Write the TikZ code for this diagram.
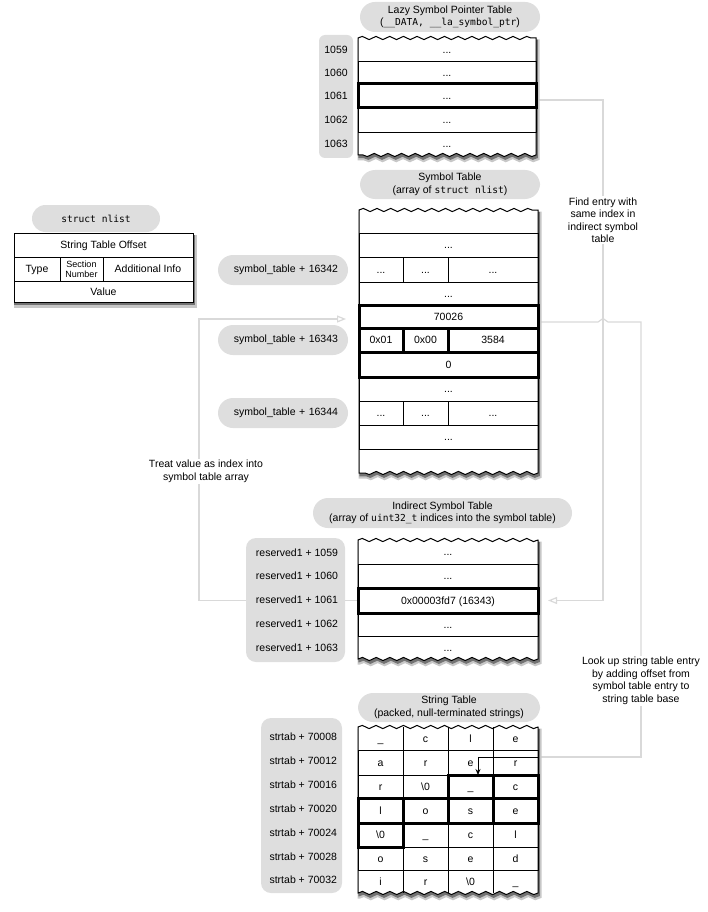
\documentclass[tikz,border=0pt]{standalone}
\usepackage{fontspec}
\setmainfont{Liberation Sans}
\newfontfamily\monof{DejaVu Sans Mono}
\usetikzlibrary{decorations.pathmorphing,arrows.meta,calc}
\pgfdeclarelayer{bg}
\pgfsetlayers{bg,main}
\definecolor{pillgray}{HTML}{DEDEDE}
\definecolor{conngray}{HTML}{D9D9D9}
\newcommand{\mt}[1]{{\monof\fontsize{9.6}{12.5}\selectfont #1}}
\newcommand{\bsz}{\textbackslash 0}
\tikzset{
  base/.style={font=\fontsize{10.5}{12.5}\selectfont, inner sep=0pt, outer sep=0pt},
  pill/.style={base, fill=pillgray, draw=none, align=center, rounded corners=#1},
  pill/.default=15pt,
  lblpill/.style={pill, minimum width=130pt, minimum height=30pt, text width=110pt, align=right},
  cellbox/.style={base, text height=7.6pt, text depth=0pt},
  thin cell/.style={cellbox, draw=black, line width=0.9pt},
  bold cell/.style={cellbox, draw=black, line width=3pt},
  free cell/.style={cellbox},
  cellline/.style={draw=black, line width=0.9pt},
  boldframe/.style={draw=black, line width=3pt},
  tableline/.style={draw=black, line width=1pt, fill=white},
  shadeA/.style={draw=black!22, line width=4pt, fill=black!22, xshift=1.5pt, yshift=-3.5pt},
  shadeB/.style={draw=black!55, line width=1.5pt, fill=black!55, xshift=1pt, yshift=-2.5pt},
  wavedec/.style={decoration={snake, segment length=13.7pt, amplitude=1.6pt}},
  conn/.style={draw=conngray, line width=1.2pt},
  openhead/.style={-{Triangle[open, length=9pt, width=7pt, fill=white]}},
  note/.style={base, align=center, fill=white, inner sep=1pt},
  idx/.style={base, anchor=east},
}
% name, style, x1, y1, x2, y2, text
\newcommand{\cellat}[7]{%
  \node[#2, minimum width={(#5-#3)*1pt}, minimum height={(#6-#4)*1pt}] (#1) at ({(#3+#5)/2},{(#4+#6)/2}) {#7};}
\newcommand{\wavepath}[5]{%
  \path[#5] (#1,#2) decorate[wavedec]{-- (#3,#2)} -- (#3,#4) decorate[wavedec]{-- (#1,#4)} -- cycle;}
\newcommand{\wavetable}[4]{%
  \wavepath{#1}{#2}{#3}{#4}{shadeA}\wavepath{#1}{#2}{#3}{#4}{shadeB}\wavepath{#1}{#2}{#3}{#4}{tableline}}
\newcommand{\strrow}[8]{%
  \cellat{s#1a}{#4}{358}{#2}{403}{#3}{#5}%
  \cellat{s#1b}{#4}{403}{#2}{448}{#3}{#6}%
  \cellat{s#1c}{#4}{448}{#2}{493}{#3}{#7}%
  \cellat{s#1d}{#4}{493}{#2}{538}{#3}{#8}}
\begin{document}
\begin{tikzpicture}[x=1pt,y=-1pt]
\useasboundingbox (0,0) rectangle (708,912);

% ---------- Lazy symbol pointer table ----------
\node[pill, minimum width=180pt, minimum height=30pt] (lzpill) at (450,17)
  {Lazy Symbol Pointer Table\\(\mt{\_\_DATA, \_\_la\_symbol\_ptr})};
\node[pill=6pt, minimum width=34pt, minimum height=123pt] (lzidx) at (336,96.5) {};
\node[base] (i1059) at (336,49.5) {1059};
\node[base] (i1060) at (336,72.5) {1060};
\node[base] (i1061) at (336,96) {1061};
\node[base] (i1062) at (336,120) {1062};
\node[base] (i1063) at (336,143.5) {1063};
\wavetable{358}{38}{536}{155}
\cellat{lz1059}{free cell}{358}{38}{536}{61}{...}
\cellat{lz1060}{thin cell}{358}{61}{536}{84}{...}
\cellat{lz1062}{thin cell}{358}{108}{536}{132}{...}
\cellat{lz1063}{free cell}{358}{132}{536}{155}{...}
\cellat{lz1061}{bold cell}{358}{84}{536}{108}{...}

% ---------- struct nlist ----------
\node[pill=13.5pt, minimum width=128pt, minimum height=27pt] (nlpill) at (96,218.5) {\mt{struct nlist}};
\path[shadeA] (14,233) rectangle (193,302);
\path[shadeB] (14,233) rectangle (193,302);
\path[tableline] (14,233) rectangle (193,302);
\cellat{nloff}{thin cell}{14}{233}{193}{257}{String Table Offset}
\cellat{nltype}{thin cell}{14}{257}{60}{281}{Type}
\cellat{nlsect}{thin cell, text height={}, text depth={}, align=center, font=\fontsize{9}{10}\selectfont}{60}{257}{103}{281}{Section\\Number}
\cellat{nlinfo}{thin cell}{103}{257}{193}{281}{Additional Info}
\cellat{nlval}{thin cell}{14}{281}{193}{302}{Value}

% ---------- Symbol table ----------
\node[pill, minimum width=180pt, minimum height=29pt] (stpill) at (450,184.5)
  {Symbol Table\\(array of \mt{struct nlist})};
\node[lblpill] (l16342) at (283,270) {symbol\_table + 16342};
\node[lblpill] (l16343) at (283,340) {symbol\_table + 16343};
\node[lblpill] (l16344) at (283,413) {symbol\_table + 16344};
\wavetable{359}{210}{538}{473}
\cellat{st0}{free cell}{359}{210}{538}{233}{}
\cellat{st1}{thin cell}{359}{233}{538}{257}{...}
\cellat{st2a}{thin cell}{359}{257}{403}{282}{...}
\cellat{st2b}{thin cell}{403}{257}{448}{282}{...}
\cellat{st2c}{thin cell}{448}{257}{538}{282}{...}
\cellat{st3}{thin cell}{359}{282}{538}{305}{...}
\cellat{st7}{thin cell}{359}{377}{538}{401}{...}
\cellat{st8a}{thin cell}{359}{401}{403}{425}{...}
\cellat{st8b}{thin cell}{403}{401}{448}{425}{...}
\cellat{st8c}{thin cell}{448}{401}{538}{425}{...}
\cellat{st9}{thin cell}{359}{425}{538}{449}{...}
\cellat{st10}{free cell}{359}{449}{538}{473}{}
\cellat{st70026}{bold cell}{359}{305}{538}{328}{70026}
\cellat{st5a}{bold cell}{359}{328}{403}{352}{0x01}
\cellat{st5b}{bold cell}{403}{328}{448}{352}{0x00}
\cellat{st5c}{bold cell}{448}{328}{538}{352}{3584}
\cellat{st6}{bold cell}{359}{352}{538}{377}{0}

% ---------- Indirect symbol table ----------
\node[pill, minimum width=259pt, minimum height=30pt] (inpill) at (442.5,513)
  {Indirect Symbol Table\\(array of \mt{uint32\_t} indices into the symbol table)};
\node[pill=10pt, minimum width=99pt, minimum height=124pt] (rsvbox) at (295.5,600) {};
\node[idx] (r1059) at (338,552.5) {reserved1 + 1059};
\node[idx] (r1060) at (338,576) {reserved1 + 1060};
\node[idx] (r1061) at (338,600) {reserved1 + 1061};
\node[idx] (r1062) at (338,624) {reserved1 + 1062};
\node[idx] (r1063) at (338,647.5) {reserved1 + 1063};
\wavetable{358}{540}{538}{659}
\cellat{ind1059}{free cell}{358}{540}{538}{564}{...}
\cellat{ind1060}{thin cell}{358}{564}{538}{588}{...}
\cellat{ind1062}{thin cell}{358}{613}{538}{636}{...}
\cellat{ind1063}{free cell}{358}{636}{538}{659}{...}
\cellat{ind1061}{bold cell}{358}{588}{538}{613}{0x00003fd7 (16343)}

% ---------- String table ----------
\node[pill, minimum width=182pt, minimum height=29pt] (strpill) at (449,707.5)
  {String Table\\(packed, null-terminated strings)};
\node[pill=10pt, minimum width=81pt, minimum height=175pt] (strbox) at (301.5,805.5) {};
\node[idx] (t70008) at (337,736.5) {strtab + 70008};
\node[idx] (t70012) at (337,760.5) {strtab + 70012};
\node[idx] (t70016) at (337,784.5) {strtab + 70016};
\node[idx] (t70020) at (337,808.5) {strtab + 70020};
\node[idx] (t70024) at (337,833) {strtab + 70024};
\node[idx] (t70028) at (337,856.5) {strtab + 70028};
\node[idx] (t70032) at (337,879.5) {strtab + 70032};
\wavetable{358}{727}{538}{893}
\strrow{0}{727}{750}{free cell}{\_}{c}{l}{e}
\strrow{1}{750}{775}{thin cell}{a}{r}{e}{r}
\strrow{2}{775}{798}{thin cell}{r}{\bsz}{\_}{c}
\strrow{3}{798}{823}{thin cell}{l}{o}{s}{e}
\strrow{4}{823}{847}{thin cell}{\bsz}{\_}{c}{l}
\strrow{5}{847}{870}{thin cell}{o}{s}{e}{d}
\strrow{6}{870}{893}{free cell}{i}{r}{\bsz}{\_}
\foreach \c in {a,b,c}{
  \draw[cellline] (s0\c.north east) -- (s0\c.south east);
  \draw[cellline] (s6\c.north east) -- (s6\c.south east);
}
\foreach \n in {s2c,s2d,s3a,s3b,s3c,s3d,s4a}{
  \draw[boldframe] (\n.north west) rectangle (\n.south east);
}

% ---------- connector notes ----------
\node[note] (findnote) at (603,220) {Find entry with\\same index in\\indirect symbol\\table};
\node[note] (treatnote) at (206,471.5) {Treat value as index into\\symbol table array};
\node[note] (lookup) at (641,681) {Look up string table entry\\by adding offset from\\symbol table entry to\\string table base};
\coordinate (arrowx) at (478,757);

% ---------- connectors ----------
\begin{pgfonlayer}{bg}
\draw[conn, openhead, shorten >=10pt] ($(lz1061.east)+(2,4)$) -| ($(ind1061.east)+(65,0)$) -- (ind1061.east);
\draw[conn] ($(st70026.east)+(0,5.5)$) -- (598,322) -- (603,318.5) -- (608,322) -| (lookup.north);
\draw[conn] (lookup.south) |- (s1d.east |- arrowx) coordinate (lkend);
\draw[conn, openhead, shorten >=13pt] (ind1061.west) -| ($(st70026.west)+(-160,2.5)$) -- ($(st70026.west)+(0,2.5)$);
\end{pgfonlayer}
\draw[black, line width=0.9pt, -{Stealth[length=6pt, width=5pt]}] (lkend) -- (arrowx) -- (arrowx |- s2c.north);
\end{tikzpicture}
\end{document}
